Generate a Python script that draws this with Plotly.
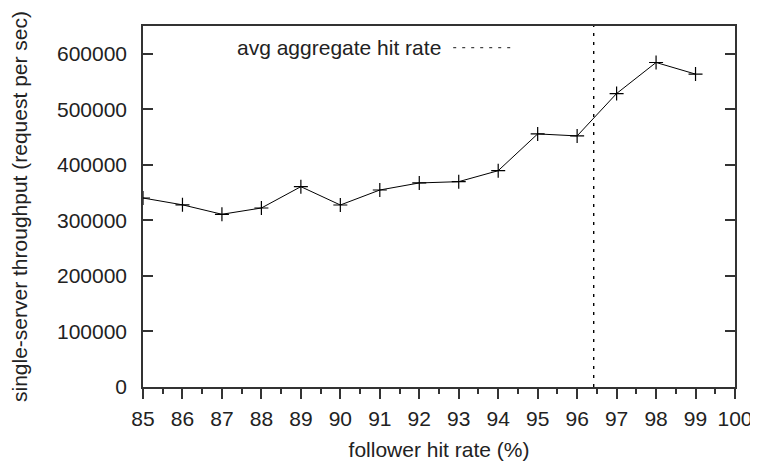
import plotly.graph_objects as go

hit_rate = [85, 86, 87, 88, 89, 90, 91, 92, 93, 94, 95, 96, 97, 98, 99]
throughput = [340300, 328000, 311000, 322300, 360700, 327700, 354700, 367400,
              369700, 389500, 455700, 452100, 528400, 584300, 563400]
avg_hit_rate = 96.42
y_range = [0, 650000]
x_range = [85, 100]
legend_label = "avg aggregate hit rate"

FONT = "Liberation Sans, Arial, Helvetica, sans-serif"
INK = "#222222"

fig = go.Figure()
fig.add_trace(go.Scatter(
    x=hit_rate, y=throughput, mode="lines+markers",
    line=dict(color="black", width=1),
    marker=dict(symbol="cross-thin", size=10, line=dict(width=1.2, color="black")),
    showlegend=False,
))
fig.add_trace(go.Scatter(
    x=[avg_hit_rate, avg_hit_rate], y=y_range, mode="lines",
    line=dict(color="black", width=1.4, dash="3px,6px"),
    showlegend=False,
))

fig.add_annotation(
    xref="paper", yref="paper", x=0.506, y=0.94, xanchor="right", yanchor="middle",
    text=legend_label, showarrow=False, font=dict(family=FONT, size=21, color=INK),
)
fig.add_shape(type="line", xref="paper", yref="paper", x0=0.524, x1=0.624, y0=0.94, y1=0.94,
              line=dict(color="#444444", width=1.3, dash="3px,6px"))

fig.update_layout(
    width=750, height=455,
    margin=dict(l=135, r=23, t=18, b=76),
    paper_bgcolor="white", plot_bgcolor="white",
    font=dict(family=FONT, size=21, color=INK),
    xaxis=dict(
        range=x_range, dtick=1, tick0=85, showgrid=False, zeroline=False,
        showline=True, linecolor="#333333", linewidth=1.5, mirror=True,
        ticks="outside", ticklen=10, tickwidth=1.5, tickcolor="#333333",
        minor=dict(ticks="outside", ticklen=5, dtick=0.5, tickwidth=1.5, tickcolor="#333333"),
        tickfont=dict(size=21), ticklabelstandoff=2, automargin=False,
        title=dict(text="follower hit rate (%)", font=dict(size=21), standoff=13),
    ),
    yaxis=dict(
        range=y_range, dtick=100000, tickformat="d", showgrid=False, zeroline=False,
        showline=True, linecolor="#333333", linewidth=1.5, mirror="ticks",
        ticks="inside", ticklen=10, tickwidth=1.5, tickcolor="#333333",
        tickfont=dict(size=21), ticklabelstandoff=10, automargin=False,
        title=dict(text="single-server throughput (request per sec)", font=dict(size=21), standoff=25),
    ),
)

fig.write_html("out.html")
